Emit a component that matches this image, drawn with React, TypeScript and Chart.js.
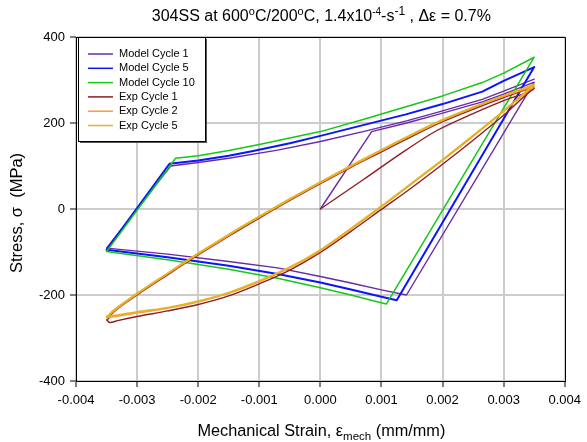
import React, { useEffect, useRef } from "react";
import { Chart, registerables } from "chart.js";

Chart.register(...registerables);

const FONT = '"Liberation Sans", Arial, Helvetica, sans-serif';

const seriesNames = ["Model Cycle 1", "Model Cycle 5", "Model Cycle 10", "Exp Cycle 1", "Exp Cycle 2", "Exp Cycle 5"];
const seriesColors = ["#6a2aa6", "#0a14ff", "#14c814", "#8e1e22", "#ff9a3c", "#dcb81e"];
const seriesWidths = [1.4, 2, 1.5, 1.4, 1.6, 1.6];

const xTickValues = [-0.004, -0.003, -0.002, -0.001, 0, 0.001, 0.002, 0.003, 0.004];
const yTickValues = [-400, -200, 0, 200, 400];

// Model Cycle 1
const mc1Strain = [0, 0.00084, 0.00141, 0.0019, 0.00265, 0.003, 0.0035, 0.00141, 0.001, 0.0005, 0, -0.0007, -0.0015, -0.0025, -0.0035, -0.00245, -0.002, -0.0015, -0.0007, 0, 0.0007, 0.00141, 0.0019, 0.00265, 0.003, 0.0035];
const mc1Stress = [0, 180, 200, 219, 249, 267, 295, -200, -188, -172, -157, -137, -122, -105, -91, 100, 108, 118, 137, 157, 180, 205, 224, 255, 274, 302];

// Model Cycle 5
const mc5Strain = [0.0035, 0.00125, 0.001, 0.0005, 0, -0.0007, -0.0015, -0.0025, -0.0035, -0.00247, -0.002, -0.0015, -0.0011, -0.0005, 0, 0.0007, 0.0014, 0.002, 0.00265, 0.003, 0.0035];
const mc5Stress = [330, -212, -204, -187, -171, -151, -132, -112, -95, 105, 113, 124, 135, 153, 170, 195, 220, 244, 273, 298, 330];

// Model Cycle 10
const mc10Strain = [0.0035, 0.00108, 0.0008, 0.0005, 0, -0.0007, -0.0015, -0.0025, -0.0035, -0.00237, -0.002, -0.0015, -0.001, -0.0005, 0, 0.0007, 0.0014, 0.002, 0.00265, 0.003, 0.0035];
const mc10Stress = [353, -221, -211, -200, -183, -161, -140, -118, -99, 118, 124, 136, 150, 165, 180, 208, 238, 263, 294, 316, 353];

// Exp Cycle 1
const ec1Strain = [0, 0.0007, 0.0014, 0.0019, 0.0025, 0.003, 0.0035, 0.003, 0.0025, 0.002, 0.0015, 0.001, 0.0005, 0, -0.0005, -0.001, -0.0015, -0.002, -0.0025, -0.003, -0.0033, -0.00345, -0.0035, -0.0034, -0.003, -0.0025, -0.002, -0.0015, -0.001, -0.0005, 0, 0.0005, 0.001, 0.0015, 0.002, 0.0025, 0.003, 0.0035];
const ec1Stress = [0, 68, 137, 182, 222, 252, 280, 218, 160, 104, 50, -1, -52, -101, -142, -174, -202, -222, -237, -250, -259, -264, -258, -242, -200, -153, -107, -63, -21, 20, 59, 97, 133, 169, 203, 232, 259, 284];

// Exp Cycle 2 and 5 (same strain path)
const ecStrain = [0.0035, 0.003, 0.0025, 0.002, 0.0015, 0.001, 0.0005, 0, -0.0005, -0.001, -0.0015, -0.002, -0.0025, -0.003, -0.0034, -0.0035, -0.0034, -0.003, -0.0025, -0.002, -0.0015, -0.001, -0.0005, 0, 0.0005, 0.001, 0.0015, 0.002, 0.0025, 0.003, 0.0035];
const ec2Stress = [286, 227, 169, 113, 59, 5, -47, -97, -137, -169, -196, -216, -231, -242, -251, -253, -240, -198, -151, -105, -61, -19, 22, 61, 99, 136, 172, 206, 235, 262, 286];
const ec5Stress = [290, 229, 171, 115, 61, 7, -45, -95, -135, -167, -194, -214, -229, -239, -248, -250, -237, -196, -149, -103, -59, -17, 24, 63, 101, 138, 174, 208, 237, 264, 290];

const seriesStrain = [mc1Strain, mc5Strain, mc10Strain, ec1Strain, ecStrain, ecStrain];
const seriesStress = [mc1Stress, mc5Stress, mc10Stress, ec1Stress, ec2Stress, ec5Stress];
const seriesIsModel = [true, true, true, false, false, false];

type Seg = { t: string; s: number; dy: number };

function drawRich(ctx: CanvasRenderingContext2D, segs: Seg[], cx: number, by: number) {
  let w = 0;
  for (const g of segs) {
    ctx.font = `${g.s}px ${FONT}`;
    w += ctx.measureText(g.t).width;
  }
  let x = cx - w / 2;
  ctx.textAlign = "left";
  ctx.textBaseline = "alphabetic";
  for (const g of segs) {
    ctx.font = `${g.s}px ${FONT}`;
    ctx.fillText(g.t, x, by + g.dy);
    x += ctx.measureText(g.t).width;
  }
}

const titleSegs: Seg[] = [
  { t: "304SS at 600", s: 16, dy: 0 },
  { t: "o", s: 11, dy: -6 },
  { t: "C/200", s: 16, dy: 0 },
  { t: "o", s: 11, dy: -6 },
  { t: "C, 1.4x10", s: 16, dy: 0 },
  { t: "-4", s: 10, dy: -6 },
  { t: "-s", s: 16, dy: 0 },
  { t: "-1", s: 12, dy: -6 },
  { t: " , \u0394\u03b5 = 0.7%", s: 16, dy: 0 },
];

const xTitleSegs: Seg[] = [
  { t: "Mechanical Strain, \u03b5", s: 16.3, dy: 0 },
  { t: "mech", s: 11.5, dy: 4 },
  { t: " (mm/mm)", s: 16.3, dy: 0 },
];

const yTitleSegs: Seg[] = [{ t: "Stress, \u03c3  (MPa)", s: 16.5, dy: 0 }];

const decorPlugin = {
  id: "decor",
  afterDraw(chart: any) {
    const ctx: CanvasRenderingContext2D = chart.ctx;
    const a = chart.chartArea;
    ctx.save();
    // frame top/right
    ctx.strokeStyle = "#000";
    ctx.lineWidth = 1;
    ctx.beginPath();
    ctx.moveTo(a.left, Math.round(a.top) + 0.5);
    ctx.lineTo(Math.round(a.right) + 0.5, Math.round(a.top) + 0.5);
    ctx.lineTo(Math.round(a.right) + 0.5, a.bottom);
    ctx.stroke();

    // legend box
    const bx = Math.round(a.left) + 2;
    const by = Math.round(a.top);
    const bw = 127;
    const bh = 104;
    ctx.fillStyle = "#fff";
    ctx.fillRect(bx, by, bw, bh);
    ctx.strokeStyle = "#000";
    ctx.lineWidth = 1;
    ctx.strokeRect(bx + 0.5, by + 0.5, bw, bh);
    ctx.fillStyle = "#555";
    ctx.fillRect(bx + bw + 1, by + 2, 1, bh);
    ctx.fillRect(bx + 2, by + bh + 1, bw, 1);

    for (let i = 0; i < seriesNames.length; i++) {
      const yy = by + 17 + i * 14.3;
      ctx.strokeStyle = seriesColors[i];
      ctx.lineWidth = 1.5;
      ctx.beginPath();
      ctx.moveTo(bx + 10, yy);
      ctx.lineTo(bx + 35, yy);
      ctx.stroke();
      ctx.fillStyle = "#000";
      ctx.font = `11px ${FONT}`;
      ctx.textAlign = "left";
      ctx.textBaseline = "middle";
      ctx.fillText(seriesNames[i], bx + 41, yy);
    }

    ctx.fillStyle = "#000";
    const cx = (a.left + a.right) / 2;
    drawRich(ctx, titleSegs, cx + 1, 21);
    drawRich(ctx, xTitleSegs, cx + 1, 436);

    ctx.save();
    ctx.translate(16, (a.top + a.bottom) / 2 + 4);
    ctx.rotate(-Math.PI / 2);
    drawRich(ctx, yTitleSegs, 0, 5.5);
    ctx.restore();

    ctx.restore();
  },
};

export default function App() {
  const ref = useRef<HTMLCanvasElement | null>(null);

  useEffect(() => {
    const canvas = ref.current;
    if (!canvas) return;
    const n = seriesNames.length;
    const datasets = seriesNames.map((name, i) => ({
      label: name,
      data: seriesStrain[i].map((x, k) => ({ x, y: seriesStress[i][k] })),
      borderColor: seriesColors[i],
      backgroundColor: seriesColors[i],
      borderWidth: seriesWidths[i],
      pointRadius: 0,
      fill: false,
      tension: 0,
      cubicInterpolationMode: seriesIsModel[i] ? "default" : "monotone",
      order: n - i,
    }));

    const chart = new Chart(canvas, {
      type: "line",
      data: { datasets } as any,
      options: {
        animation: false,
        responsive: false,
        maintainAspectRatio: false,
        devicePixelRatio: 1,
        layout: { padding: { top: 37, right: 17, left: 0, bottom: 0 } },
        plugins: {
          legend: { display: false },
          title: { display: false },
          tooltip: { enabled: false },
        },
        elements: { line: { borderJoinStyle: "round", borderCapStyle: "round" } },
        scales: {
          x: {
            type: "linear",
            min: xTickValues[0],
            max: xTickValues[xTickValues.length - 1],
            afterBuildTicks: (s: any) => {
              s.ticks = xTickValues.map((v) => ({ value: v }));
            },
            ticks: {
              color: "#000",
              font: { family: FONT, size: 13 },
              padding: 6,
              maxRotation: 0,
              autoSkip: false,
              callback: (v: any) => (Math.abs(Number(v)) < 1e-9 ? "0.000" : Number(v).toFixed(3)),
            },
            grid: { color: "#cccccc", lineWidth: 2, tickColor: "#000", tickWidth: 1, tickLength: 6 },
            border: { display: true, color: "#000", width: 1 },
            afterFit: (s: any) => {
              s.height = 61;
            },
          },
          y: {
            type: "linear",
            min: yTickValues[0],
            max: yTickValues[yTickValues.length - 1],
            afterBuildTicks: (s: any) => {
              s.ticks = yTickValues.map((v) => ({ value: v }));
            },
            ticks: {
              color: "#000",
              font: { family: FONT, size: 13 },
              padding: 5,
              callback: (v: any) => String(v),
            },
            grid: { color: "#cccccc", lineWidth: 2, tickColor: "#000", tickWidth: 1, tickLength: 6 },
            border: { display: true, color: "#000", width: 1 },
            afterFit: (s: any) => {
              s.width = 76;
            },
          },
        },
      } as any,
      plugins: [decorPlugin],
    });
    return () => chart.destroy();
  }, []);

  return (
    <div style={{ position: "absolute", left: 0, top: 0, width: 587, height: 442, background: "#fff" }}>
      <canvas ref={ref} width={587} height={442} style={{ display: "block" }} />
    </div>
  );
}
